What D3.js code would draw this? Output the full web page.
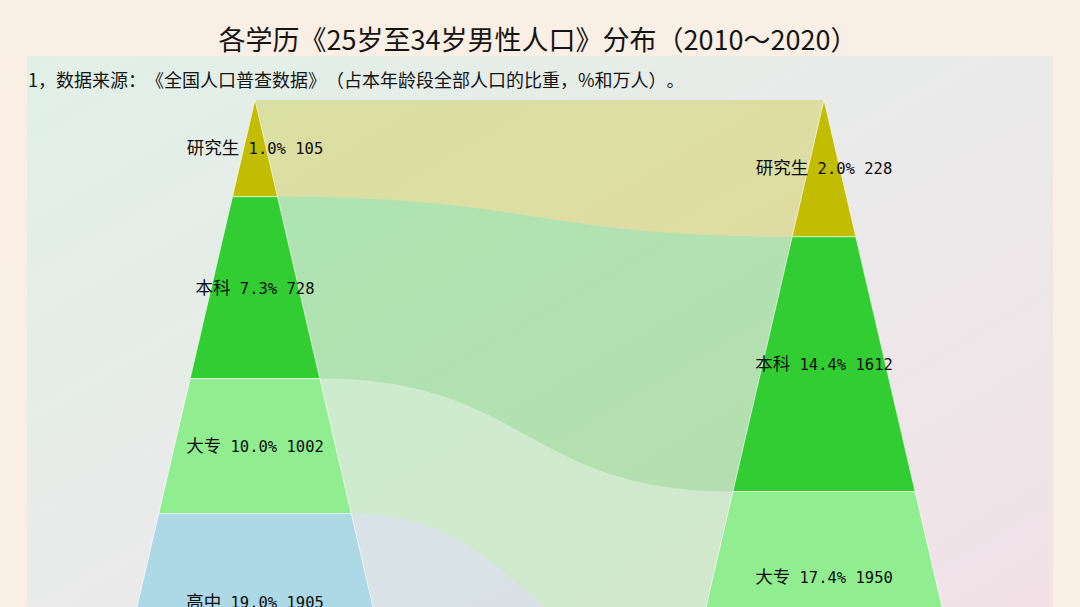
<!DOCTYPE html>
<html>
<head>
<meta charset="utf-8">
<script src="https://cdn.jsdelivr.net/npm/d3@7/dist/d3.min.js"></script>
<style>
  html, body { margin: 0; padding: 0; background: #faefe5; overflow: hidden; }
  svg { display: block; }
  text { text-spacing-trim: space-all; font-feature-settings: "chws" 0, "halt" 0; }
</style>
</head>
<body>
<svg id="chart" width="1080" height="607"></svg>
<script>
// ---- data ----
const years = ['2010', '2020'];
const categories = ['研究生', '本科', '大专', '高中'];
const pct2010 = [1.0, 7.3, 10.0, 19.0];
const num2010 = [105, 728, 1002, 1905];
const pct2020 = [2.0, 14.4, 17.4];
const num2020 = [228, 1612, 1950];
const colors = ['#c2bd00', '#32cd32', '#90ee90', '#add8e6'];
const titleText = '各学历《25岁至34岁男性人口》分布（2010～2020）';
const noteText = '1，数据来源：《全国人口普查数据》（占本年龄段全部人口的比重，%和万人）。';

// ---- layout ----
const W = 1080, H = 607;
const svg = d3.select('#chart');
const defs = svg.append('defs');
const grad = defs.append('linearGradient').attr('id', 'panelGrad')
  .attr('x1', 0).attr('y1', 0).attr('x2', 1).attr('y2', 1);
grad.append('stop').attr('offset', '0%').attr('stop-color', '#e1f0e7');
grad.append('stop').attr('offset', '50%').attr('stop-color', '#eaeaea');
grad.append('stop').attr('offset', '100%').attr('stop-color', '#f3e1e8');

svg.append('rect').attr('width', W).attr('height', H).attr('fill', '#faefe5');
svg.append('rect').attr('x', 27).attr('y', 56).attr('width', 1026).attr('height', 600)
  .attr('fill', 'url(#panelGrad)');

svg.append('text').attr('x', 538).attr('y', 50).attr('text-anchor', 'middle')
  .attr('font-family', "'Noto Sans CJK SC', sans-serif").attr('font-size', 27)
  .attr('fill', '#151515').text(titleText);
svg.append('text').attr('x', 28).attr('y', 87)
  .attr('font-family', "'Noto Sans CJK SC', sans-serif").attr('font-size', 18)
  .attr('fill', '#151515').text(noteText);

const x = d3.scalePoint().domain(years).range([255, 824]);
const depth = d3.scaleSqrt().domain([0, 100]).range([100, 1067]);
const half = d3.scaleLinear().domain([100, 1067]).range([0, 225]);

const series = [
  { year: '2010', pct: pct2010, num: num2010 },
  { year: '2020', pct: pct2020, num: num2020 }
];
series.forEach(s => {
  const cum = Array.from(d3.cumsum(s.pct));
  s.segs = s.pct.map((p, i) => ({
    cat: categories[i], idx: i, pct: p, num: s.num[i],
    y0: depth(i === 0 ? 0 : cum[i - 1]), y1: depth(cum[i])
  }));
  s.end = depth(cum[cum.length - 1]);
});

const cxL = x('2010'), cxR = x('2020');
const L = series[0], R = series[1];

// ---- flow bands ----
const bands = svg.append('g');
L.segs.forEach(seg => {
  const rs = R.segs[seg.idx];
  const yR0 = rs ? rs.y0 : R.end;
  const yR1 = rs ? rs.y1 : H + 300;
  const a = [cxL + half(seg.y0), seg.y0];
  const b = [cxR - half(yR0), yR0];
  const c = [cxR - half(yR1), yR1];
  const d = [cxL + half(seg.y1), seg.y1];
  const m0 = (a[0] + b[0]) / 2, m1 = (c[0] + d[0]) / 2;
  const p = d3.path();
  p.moveTo(a[0], a[1]);
  p.bezierCurveTo(m0, a[1], m0, b[1], b[0], b[1]);
  p.lineTo(c[0], c[1]);
  p.bezierCurveTo(m1, c[1], m1, d[1], d[0], d[1]);
  p.closePath();
  bands.append('path').attr('d', p.toString())
    .attr('fill', colors[seg.idx]).attr('fill-opacity', 0.3);
});

// ---- funnels ----
series.forEach(s => {
  const cx = x(s.year);
  const g = svg.append('g');
  g.selectAll('path').data(s.segs).join('path')
    .attr('d', d => {
      const p = d3.path();
      p.moveTo(cx - half(d.y0), d.y0);
      p.lineTo(cx + half(d.y0), d.y0);
      p.lineTo(cx + half(d.y1), d.y1);
      p.lineTo(cx - half(d.y1), d.y1);
      p.closePath();
      return p.toString();
    })
    .attr('fill', d => colors[d.idx])
    .attr('stroke', '#ffffff').attr('stroke-opacity', 0.6).attr('stroke-width', 1);
  const t = g.selectAll('text').data(s.segs).join('text')
    .attr('x', cx).attr('y', d => (d.y0 + d.y1) / 2)
    .attr('dy', '0.38em').attr('text-anchor', 'middle')
    .attr('fill', '#0d0d0d');
  t.append('tspan')
    .attr('font-family', "'Noto Sans CJK SC', sans-serif").attr('font-size', 17.5)
    .text(d => d.cat);
  t.append('tspan')
    .attr('font-family', "'DejaVu Sans Mono', monospace").attr('font-size', 15.5)
    .text(d => ` ${d.pct.toFixed(1)}% ${d.num}`);
});
</script>
</body>
</html>
